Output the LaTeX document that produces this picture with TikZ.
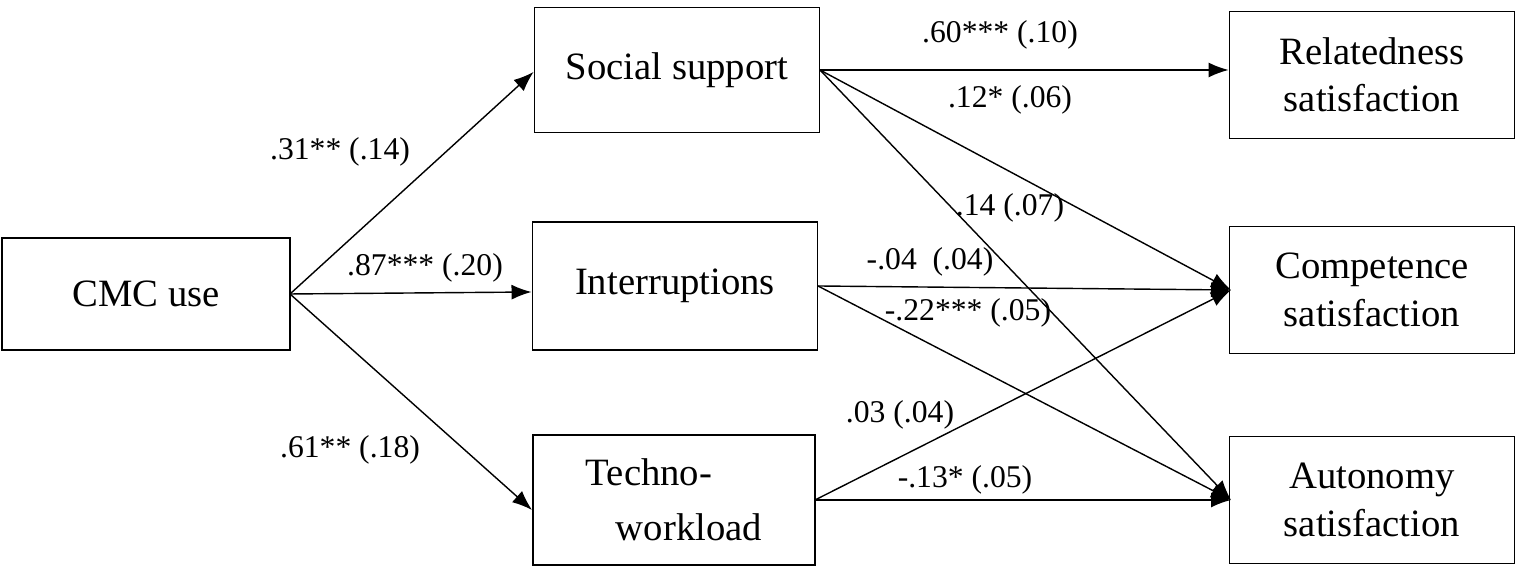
\documentclass[tikz,border=0pt]{standalone}
\usepackage{fontspec}
\setmainfont{Liberation Serif}
\usetikzlibrary{positioning,arrows.meta}

\tikzset{
    varbox/.style={draw, line width=0.5pt, minimum width=2.85cm, minimum height=1.27cm, align=center, font=\fontsize{11}{13.5}\selectfont},
    path/.style={-{Latex[length=2mm,width=1.5mm]}, line width=0.4pt},
    coef/.style={font=\fontsize{9}{10}\selectfont}
}

\begin{document}
\begin{tikzpicture}[x=0.01cm, y=-0.01cm]
    \useasboundingbox (0,0) rectangle (1521,571);

    % Variablen
    \node[varbox, minimum width=2.88cm, minimum height=1.12cm] (cmc) at (146,294) {CMC use};
    \node[varbox, minimum height=1.25cm] (social) at (677,70) {Social support};
    \node[varbox, minimum height=1.28cm] (interr) at (675,286) {Interruptions};
    \node[varbox, minimum width=2.82cm, minimum height=1.30cm, align=left] (techno) at (674,500) {Techno-\\[2pt]\hspace{0.3cm}workload};
    \node[varbox] (related) at (1372,75) {Relatedness\\satisfaction};
    \node[varbox] (compet) at (1372,290) {Competence\\satisfaction};
    \node[varbox] (autono) at (1372,500) {Autonomy\\satisfaction};

    % Pfade
    \coordinate (cmcR) at (290,294);
    \draw[path] (cmcR) -- (social.west |- 0,72);
    \draw[path] (cmcR) -- (interr.west |- 0,292);
    \draw[path] (cmcR) -- (techno.west |- 0,510);
    \coordinate (socR) at (820,70);
    \coordinate (intR) at (818,286);
    \coordinate (tecR) at (815,500);
    \coordinate (comL) at (1231,290);
    \coordinate (autL) at (1231,500);
    \draw[path] (socR) -- (related.west |- socR);
    \draw[path] (socR) -- (comL);
    \draw[path] (socR) -- (autL);
    \draw[path] (intR) -- (comL);
    \draw[path] (intR) -- (autL);
    \draw[path] (tecR) -- (comL);
    \draw[path] (tecR) -- (autL);

    % Koeffizienten
    \node[coef] (c1) at (340,152) {.31** (.14)};
    \node[coef] (c2) at (425,268) {.87*** (.20)};
    \node[coef] (c3) at (350,450) {.61** (.18)};
    \node[coef] (c4) at (1000,35) {.60*** (.10)};
    \node[coef] (c5) at (1010,100) {.12* (.06)};
    \node[coef] (c6) at (1010,208) {.14 (.07)};
    \node[coef] (c7) at (930,262) {-.04\ \ (.04)};
    \node[coef] (c8) at (968,313) {-.22*** (.05)};
    \node[coef] (c9) at (900,415) {.03 (.04)};
    \node[coef] (c10) at (965,480) {-.13* (.05)};
\end{tikzpicture}
\end{document}
